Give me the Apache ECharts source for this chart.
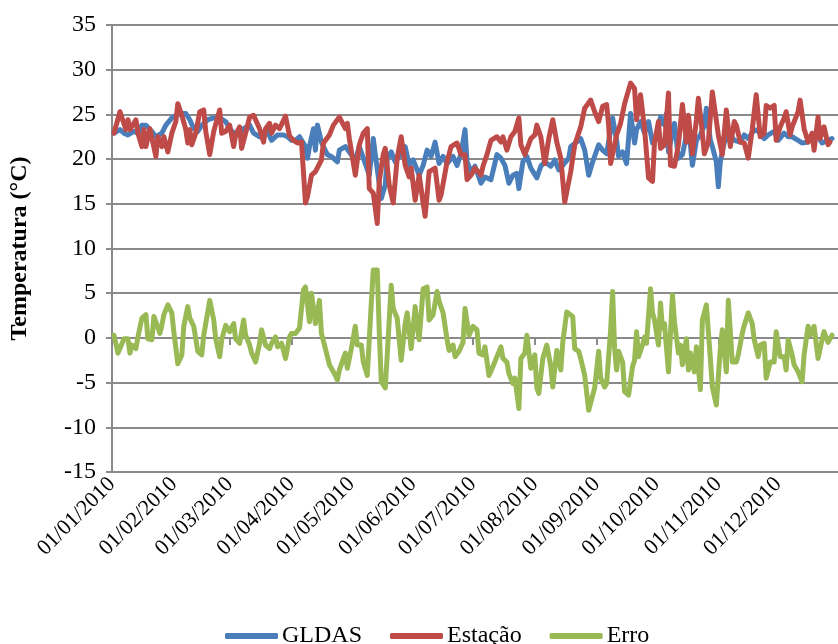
<!DOCTYPE html>
<html>
<head>
<meta charset="utf-8">
<script src="https://cdn.jsdelivr.net/npm/echarts@6/dist/echarts.min.js"></script>
<style>
  html, body { margin: 0; padding: 0; background: #ffffff; }
  #chart { width: 838px; height: 644px; }
</style>
</head>
<body>
<div id="chart"></div>
<script>
// Day of year 2010 (0 = 01/01) at the first day of each month, and its label
const monthStarts = [0, 31, 59, 90, 120, 151, 181, 212, 243, 273, 304, 334];
const tickLabels = ['01/01/2010', '01/02/2010', '01/03/2010', '01/04/2010', '01/05/2010', '01/06/2010',
  '01/07/2010', '01/08/2010', '01/09/2010', '01/10/2010', '01/11/2010', '01/12/2010'];

// GLDAS daily temperature (°C)
const gldasDays = [1, 4, 6, 8, 11, 13, 15, 17, 20, 22, 25, 27, 30, 32, 35, 37, 39, 41, 43, 45, 48, 51, 54, 57, 59, 62, 64, 66, 69, 71, 74, 75, 78, 80, 83, 86, 88,
  90, 92, 94, 97, 98, 99, 101, 102, 103, 105, 106, 108, 110, 111, 113, 114, 117, 119, 122, 124, 127, 129, 131, 132, 135, 137, 138, 140, 142, 145, 147, 149, 151, 154, 156, 158, 160, 162, 164, 166, 168, 171, 173, 175, 177, 178, 180,
  182, 185, 187, 190, 193, 195, 197, 199, 201, 203, 204, 206, 208, 210, 213, 215, 217, 220, 222, 224, 226, 229, 230, 233, 235, 237, 239, 241, 244, 246, 248, 251, 253, 254, 256, 258, 260, 262, 263, 265, 267, 269, 271,
  273, 275, 277, 278, 279, 282, 284, 286, 288, 290, 291, 293, 295, 297, 298, 300, 301, 303, 304, 305, 307, 310, 312, 315, 317, 319, 322, 324, 327, 329, 332, 334, 337, 339, 341, 344, 346, 349, 351, 354, 356, 359, 361];
const gldasVals = [22.9, 23.3, 22.9, 22.7, 23.1, 22.9, 23.8, 23.8, 23.1, 22.5, 22.9, 23.8, 24.6, 24.9, 25.1, 25.1, 24.4, 23.4, 23.1, 23.8, 24.4, 24.6, 24.6, 24.2, 23.4, 22.7, 22.9, 23.4, 23.8, 22.9, 22.5, 22.9, 23.1, 22.1, 22.7, 22.7, 22.5,
  22.1, 22.1, 22.5, 21.4, 20.1, 21.4, 23.4, 21.0, 23.8, 21.9, 21.4, 20.5, 20.3, 20.5, 19.7, 21.0, 21.4, 20.8, 19.9, 21.4, 19.5, 18.2, 22.3, 20.5, 15.6, 17.1, 20.1, 20.8, 19.7, 20.6, 21.4, 19.3, 19.9, 18.2, 19.3, 21.0, 20.3, 21.9, 19.5, 20.3, 19.5, 20.3, 19.3, 20.6, 23.3, 19.7, 18.6,
  19.2, 17.3, 18.0, 17.7, 20.5, 20.1, 19.3, 17.3, 18.2, 18.4, 16.7, 19.7, 20.3, 19.0, 17.9, 19.2, 19.7, 19.2, 19.9, 18.8, 19.3, 20.1, 21.4, 21.9, 22.3, 21.0, 18.2, 19.7, 21.6, 21.0, 20.6, 24.6, 22.1, 20.3, 20.8, 19.5, 25.1, 21.8, 23.3, 24.2, 22.9, 24.2, 21.8,
  22.3, 24.7, 23.8, 25.1, 20.8, 24.0, 20.1, 20.5, 22.7, 21.6, 19.3, 22.1, 22.7, 23.8, 25.7, 22.1, 21.4, 19.7, 16.9, 19.7, 21.9, 22.7, 22.1, 21.9, 22.7, 22.3, 23.3, 23.1, 22.3, 22.7, 23.1, 22.1, 22.9, 22.5, 22.5, 22.1, 21.8, 21.9, 22.5, 22.5, 21.8, 22.1, 22.3];

// Weather station daily temperature (°C)
const estacaoDays = [1, 4, 5, 7, 8, 9, 12, 13, 15, 16, 17, 19, 22, 23, 25, 26, 28, 30, 32, 33, 35, 37, 38, 39, 40, 42, 44, 46, 47, 49, 51, 54, 55, 57, 59, 61, 62, 64, 65, 67, 69, 71, 72, 74, 76, 77, 79, 80, 82, 84, 87,
  89, 91, 93, 95, 97, 98, 100, 102, 105, 106, 109, 111, 114, 115, 117, 118, 119, 122, 124, 126, 128, 129, 131, 133, 134, 136, 137, 139, 141, 143, 145, 147, 149, 150, 152, 154, 157, 159, 162, 164, 165, 168, 170, 173, 175, 177, 178, 180,
  182, 185, 186, 188, 190, 193, 195, 196, 198, 200, 202, 204, 205, 207, 208, 210, 212, 213, 215, 217, 219, 221, 223, 225, 227, 230, 232, 235, 237, 240, 242, 244, 246, 248, 249, 250, 253, 255, 257, 260, 262, 263, 265, 267, 269, 271,
  272, 274, 275, 277, 279, 280, 282, 284, 286, 288, 289, 291, 293, 294, 296, 297, 299, 301, 304, 306, 308, 310, 312, 313, 315, 317, 319, 321, 323, 325, 327, 328, 330, 332, 333, 335, 337, 338, 340, 341, 344, 345, 347, 349, 351, 352, 354, 355, 357, 359, 360];
const estacaoVals = [22.9, 25.3, 25.5, 23.3, 24.4, 23.3, 24.4, 22.9, 21.4, 23.3, 21.4, 23.4, 20.3, 22.5, 21.4, 22.5, 20.8, 22.9, 24.2, 26.2, 24.9, 23.3, 21.8, 23.3, 21.6, 22.9, 25.3, 25.5, 23.1, 20.5, 23.1, 25.5, 22.9, 23.1, 23.8, 21.4, 22.7, 23.6, 21.2, 22.9, 24.7, 24.9, 25.1, 23.4, 21.9, 23.4, 24.0, 22.9, 23.8, 23.4, 24.8,
  22.6, 22.1, 21.8, 21.9, 15.1, 15.8, 18.2, 18.6, 19.9, 21.8, 22.7, 23.8, 24.7, 24.9, 23.4, 24.0, 22.3, 18.2, 21.6, 22.9, 23.4, 16.7, 16.2, 12.8, 17.5, 20.5, 21.2, 17.1, 15.1, 20.1, 22.5, 19.3, 18.0, 19.0, 15.4, 18.2, 13.6, 18.6, 19.0, 15.4, 16.0, 19.7, 21.4, 21.8, 20.5, 20.5, 17.7, 18.2,
  19.0, 18.2, 19.2, 20.5, 22.1, 22.5, 21.9, 22.5, 21.0, 22.5, 23.1, 24.6, 21.6, 20.5, 20.3, 22.3, 22.7, 23.8, 22.5, 19.5, 22.3, 24.4, 21.9, 20.1, 15.2, 18.6, 21.6, 23.6, 25.7, 26.6, 25.3, 24.2, 25.9, 26.1, 23.8, 19.5, 22.7, 24.0, 26.2, 28.5, 27.9, 24.4, 27.2, 23.4, 17.9, 17.5,
  21.9, 24.2, 21.2, 21.6, 27.4, 19.3, 19.2, 21.6, 26.1, 21.9, 24.9, 20.6, 24.4, 26.8, 22.9, 20.6, 21.9, 27.5, 22.7, 20.5, 25.5, 21.4, 24.2, 23.8, 21.9, 21.8, 20.1, 23.3, 27.2, 22.5, 22.9, 26.0, 25.7, 26.0, 22.1, 23.6, 24.6, 25.3, 22.7, 23.6, 25.3, 26.6, 23.4, 21.9, 22.9, 21.0, 24.7, 22.3, 23.6, 21.6, 21.9];

// Error GLDAS - station (°C)
const erroDays = [1, 3, 4, 6, 8, 9, 10, 12, 13, 15, 16, 17, 18, 20, 21, 22, 24, 25, 26, 28, 30, 31, 33, 35, 36, 38, 39, 41, 43, 45, 46, 48, 49, 51, 52, 54, 55, 57, 59, 61, 62, 64, 66, 67, 69, 70, 72, 74, 75, 77, 79, 80, 82, 83, 85, 87,
  89, 90, 92, 94, 95, 96, 97, 99, 100, 102, 104, 105, 107, 109, 110, 112, 113, 114, 116, 117, 118, 120, 122, 123, 125, 126, 128, 130, 131, 133, 134, 135, 137, 138, 140, 141, 143, 144, 145, 147, 148, 150, 152, 153, 154, 156, 158, 159, 161, 163, 164, 166, 168, 169, 171, 172, 174, 176, 177,
  179, 181, 183, 184, 186, 187, 189, 191, 193, 195, 196, 198, 199, 201, 202, 204, 205, 207, 208, 210, 212, 213, 214, 216, 218, 220, 221, 223, 225, 226, 228, 229, 231, 232, 234, 235, 237, 239, 240, 242, 244, 245, 247, 248, 250, 251, 252, 253, 254, 256, 257, 259, 261, 262, 263, 264, 266, 267, 268, 270,
  271, 272, 274, 275, 276, 277, 279, 281, 282, 284, 285, 286, 288, 289, 290, 292, 293, 295, 296, 298, 300, 301, 303, 305, 306, 308, 309, 311, 313, 314, 316, 317, 319, 321, 322, 324, 325, 327, 328, 330, 332, 333, 335, 337, 338, 339, 341, 342, 344, 346, 347, 349, 350, 352, 354, 356, 357, 359, 361];
const erroVals = [0.3, -1.7, -1.9, -0.1, -0.1, -1.7, -0.8, -1.2, 0.1, 2.2, 2.4, 2.6, -0.1, -0.2, 2.4, 2.4, 0.5, 1.4, 2.6, 3.7, 2.8, 0.7, -2.9, -1.9, 1.3, 3.5, 2.2, 1.3, -1.5, -1.9, 0.3, 2.9, 4.2, 2.0, -0.1, -2.1, -0.2, 1.4, 0.7, 1.6, -0.1, -0.6, 2.0, 0.3, -0.8, -1.7, -2.7, -0.6, 0.9, -0.8, -1.2, -0.6, 0.1, -1.0, -0.6, -2.3,
  0.1, 0.5, 0.5, 1.1, 1.3, 5.4, 5.7, 1.8, 5.0, 1.6, 4.2, 0.5, -1.2, -3.0, -3.4, -4.2, -4.7, -3.6, -2.3, -1.7, -3.4, -1.2, 1.3, -0.8, -0.8, -2.7, -4.2, 3.9, 7.6, 7.6, 0.7, -4.9, -5.6, -1.9, 5.9, 3.3, 2.2, -0.2, -2.5, 1.6, 2.8, -1.2, 3.5, 1.4, -0.2, 5.5, 5.7, 2.0, 2.6, 5.2, 4.1, 2.8, -0.2, -1.4, -0.8, -2.1, -1.5, -0.5, 3.3,
  0.3, 1.3, 0.9, -1.7, -1.9, -1.0, -4.2, -3.2, -2.1, -1.0, -2.3, -2.7, -4.0, -5.1, -4.5, -7.9, -2.3, -1.7, 0.3, -3.4, -1.9, -5.6, -6.2, -2.3, -0.8, -3.2, -5.5, -1.4, -3.6, -0.5, 2.9, 2.8, 2.4, -1.2, -1.5, -2.3, -4.2, -8.1, -8.3, -5.6, -1.5, -4.5, -5.5, -5.1, 0.9, 5.2, -1.2, -3.6, -1.5, -2.7, -6.0, -6.4, -3.2, -2.5, 0.7, -2.1, -0.8, 0.1, -0.6, 5.5,
  2.8, 2.0, -0.8, 3.9, 1.1, 1.6, -3.8, 4.8, 1.8, -1.7, -0.8, -3.0, -0.1, -3.6, -1.7, -3.8, -1.0, -5.8, 2.0, 3.7, -2.3, -5.5, -7.5, -1.2, 0.9, -3.8, 4.2, -2.7, -2.7, -1.9, 0.5, 1.4, 2.8, 1.6, -0.2, -2.1, -0.8, -0.6, -4.5, -2.7, -2.7, 0.7, -2.1, -2.1, -3.6, -0.2, -1.9, -3.0, -3.8, -4.9, -1.9, 1.3, 0.3, 1.3, -2.3, -0.2, 0.7, -0.5, 0.3];

const pairs = (days, vals) => days.map((d, i) => [d, vals[i]]);

const GRID_COLOR = '#8a8a8a';
const FONT = 'Liberation Serif, Times New Roman, serif';

const chart = echarts.init(document.getElementById('chart'), null, { renderer: 'canvas' });

const lineSeries = (name, days, vals, color) => ({
  name: name,
  type: 'line',
  xAxisIndex: 0,
  data: pairs(days, vals),
  symbol: 'none',
  smooth: false,
  z: 3,
  lineStyle: { width: 5, color: color, join: 'round', cap: 'round' },
  itemStyle: { color: color },
  emphasis: { disabled: true },
  animation: false
});

chart.setOption({
  backgroundColor: '#ffffff',
  animation: false,
  grid: { left: 101, right: -7, top: 25, bottom: 172, containLabel: false },
  legend: {
    data: ['GLDAS', 'Estação', 'Erro'],
    left: 220,
    top: 619,
    icon: 'roundRect',
    itemWidth: 53,
    itemHeight: 6,
    itemGap: 28,
    textStyle: { fontFamily: FONT, fontSize: 24, color: '#000000', padding: [0, 0, 0, -1] }
  },
  xAxis: [
    {
      // axis line crossing at 0 °C with the month ticks
      type: 'value',
      min: 0,
      max: 364,
      position: 'bottom',
      z: 1,
      axisLine: { show: true, onZero: true, lineStyle: { color: GRID_COLOR, width: 2 } },
      axisTick: { show: true, inside: false, customValues: monthStarts, length: 7, lineStyle: { color: GRID_COLOR, width: 2 } },
      axisLabel: { show: true, customValues: monthStarts, color: 'rgba(0,0,0,0)', formatter: () => '' },
      splitLine: { show: false }
    },
    {
      // month labels along the bottom of the plot
      type: 'value',
      min: 0,
      max: 364,
      position: 'bottom',
      axisLine: { show: false, onZero: false },
      axisTick: { show: false },
      splitLine: { show: false },
      axisLabel: {
        show: true,
        customValues: monthStarts,
        rotate: 45,
        margin: 9,
        fontFamily: FONT,
        fontSize: 22,
        color: '#000000',
        formatter: v => tickLabels[monthStarts.indexOf(v)] || ''
      }
    }
  ],
  yAxis: {
    type: 'value',
    min: -15,
    max: 35,
    interval: 5,
    name: 'Temperatura (°C)',
    nameLocation: 'middle',
    nameRotate: 90,
    nameGap: 80,
    nameTextStyle: { fontFamily: FONT, fontSize: 24, fontWeight: 'bold', color: '#000000' },
    axisLine: { show: true, lineStyle: { color: GRID_COLOR, width: 2 } },
    axisTick: { show: true, length: 6, lineStyle: { color: GRID_COLOR, width: 2 } },
    axisLabel: { fontFamily: FONT, fontSize: 24, color: '#000000', margin: 16 },
    splitLine: { show: true, lineStyle: { color: GRID_COLOR, width: 2 } }
  },
  series: [
    lineSeries('GLDAS', gldasDays, gldasVals, '#4A7EBB'),
    lineSeries('Estação', estacaoDays, estacaoVals, '#BE4B48'),
    lineSeries('Erro', erroDays, erroVals, '#98B954')
  ]
});
</script>
</body>
</html>
